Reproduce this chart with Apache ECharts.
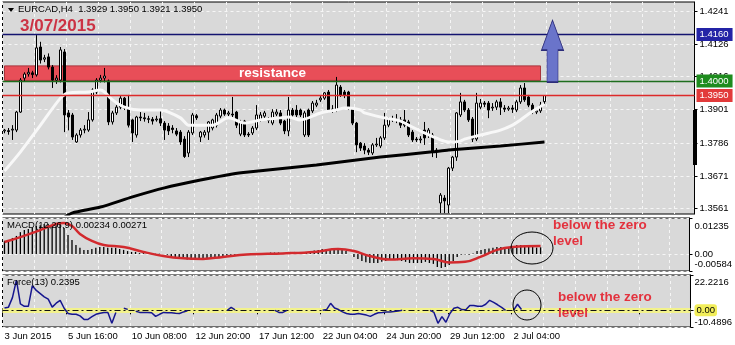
<!DOCTYPE html>
<html><head><meta charset="utf-8">
<script src="https://cdn.jsdelivr.net/npm/echarts@6/dist/echarts.min.js"></script>
<style>html,body{margin:0;padding:0;background:#fff}#c{width:735px;height:345px}</style>
</head><body><div id="c"></div>
<script>
// ---- data ----
const timeLabels = ['3 Jun 2015','5 Jun 16:00','10 Jun 08:00','12 Jun 20:00','17 Jun 12:00','22 Jun 04:00','24 Jun 20:00','29 Jun 12:00','2 Jul 04:00'];
const priceTicks = [1.4241, 1.4126, 1.4016, 1.3901, 1.3786, 1.3671, 1.3561];
const macdTicks = [0.01235, 0, -0.00584];
const forceTicks = [22.2216, 0, -10.4896];
const levelLines = [1.4160, 1.4000, 1.3950];
const resistanceZone = [1.4002, 1.4052];
// H4 candles: [open, high, low, close]
const candles = [
[1.3828,1.3835,1.3820,1.3831],[1.3829,1.3838,1.3815,1.3826],[1.3831,1.3848,1.3797,1.3834],[1.3831,1.3897,1.3824,1.3893],
[1.3893,1.4010,1.3890,1.4003],[1.4010,1.4030,1.4000,1.4024],[1.4024,1.4045,1.4015,1.4030],[1.4028,1.4035,1.4010,1.4022],
[1.4021,1.4158,1.4015,1.4114],[1.4117,1.4135,1.4060,1.4072],[1.4075,1.4090,1.4065,1.4080],[1.4083,1.4095,1.4040,1.4048],
[1.4048,1.4055,1.3976,1.4003],[1.4003,1.4020,1.3990,1.4010],[1.4003,1.4117,1.3995,1.4107],[1.4100,1.4110,1.3824,1.3883],
[1.3890,1.3900,1.3830,1.3876],[1.3883,1.3890,1.3797,1.3807],[1.3790,1.3820,1.3787,1.3814],[1.3814,1.3838,1.3805,1.3831],
[1.3831,1.3848,1.3820,1.3834],[1.3831,1.3893,1.3825,1.3866],[1.3866,1.3975,1.3860,1.3969],[1.3962,1.4010,1.3955,1.4003],
[1.4003,1.4021,1.3995,1.4010],[1.4010,1.4045,1.3995,1.4017],[1.4000,1.4005,1.3848,1.3859],[1.3859,1.3897,1.3850,1.3890],
[1.3890,1.3917,1.3883,1.3910],[1.3910,1.3948,1.3903,1.3941],[1.3941,1.3945,1.3900,1.3907],[1.3907,1.3952,1.3840,1.3848],
[1.3866,1.3870,1.3790,1.3821],[1.3814,1.3880,1.3805,1.3876],[1.3876,1.3893,1.3862,1.3873],[1.3873,1.3890,1.3860,1.3870],
[1.3870,1.3880,1.3855,1.3868],[1.3868,1.3876,1.3850,1.3862],[1.3866,1.3880,1.3860,1.3869],[1.3870,1.3900,1.3845,1.3855],
[1.3855,1.3862,1.3797,1.3831],[1.3845,1.3855,1.3814,1.3828],[1.3838,1.3848,1.3820,1.3833],[1.3828,1.3838,1.3810,1.3817],
[1.3824,1.3831,1.3780,1.3790],[1.3800,1.3810,1.3735,1.3740],[1.3752,1.3831,1.3738,1.3824],[1.3821,1.3890,1.3814,1.3883],
[1.3880,1.3886,1.3866,1.3873],[1.3807,1.3828,1.3790,1.3824],[1.3814,1.3831,1.3805,1.3824],[1.3824,1.3862,1.3797,1.3859],
[1.3838,1.3870,1.3830,1.3866],[1.3848,1.3890,1.3840,1.3883],[1.3879,1.3907,1.3872,1.3900],[1.3900,1.3905,1.3880,1.3886],
[1.3886,1.3897,1.3879,1.3890],[1.3886,1.3945,1.3876,1.3883],[1.3893,1.3897,1.3838,1.3848],[1.3817,1.3866,1.3810,1.3859],
[1.3862,1.3866,1.3807,1.3814],[1.3817,1.3824,1.3807,1.3814],[1.3821,1.3845,1.3814,1.3838],[1.3838,1.3917,1.3831,1.3883],
[1.3866,1.3893,1.3859,1.3883],[1.3879,1.3897,1.3872,1.3890],[1.3868,1.3876,1.3855,1.3864],[1.3855,1.3903,1.3848,1.3893],
[1.3886,1.3903,1.3879,1.3893],[1.3890,1.3900,1.3848,1.3855],[1.3862,1.3866,1.3817,1.3828],[1.3828,1.3945,1.3810,1.3900],
[1.3900,1.3907,1.3876,1.3883],[1.3900,1.3917,1.3876,1.3883],[1.3900,1.3905,1.3876,1.3883],[1.3814,1.3897,1.3807,1.3890],
[1.3900,1.3905,1.3807,1.3814],[1.3897,1.3931,1.3890,1.3924],[1.3917,1.3935,1.3910,1.3924],[1.3935,1.3948,1.3928,1.3941],
[1.3941,1.3962,1.3935,1.3959],[1.3962,1.3969,1.3893,1.3900],[1.3900,1.3917,1.3890,1.3903],[1.3900,1.4014,1.3893,1.3986],
[1.3979,1.3986,1.3945,1.3952],[1.3962,1.3969,1.3941,1.3952],[1.3962,1.3966,1.3900,1.3907],[1.3907,1.3910,1.3848,1.3855],
[1.3855,1.3859,1.3755,1.3780],[1.3786,1.3790,1.3759,1.3769],[1.3776,1.3786,1.3748,1.3762],[1.3762,1.3769,1.3745,1.3755],
[1.3752,1.3786,1.3745,1.3780],[1.3780,1.3804,1.3773,1.3783],[1.3776,1.3810,1.3769,1.3804],[1.3804,1.3890,1.3797,1.3848],
[1.3848,1.3876,1.3841,1.3869],[1.3866,1.3880,1.3859,1.3869],[1.3869,1.3886,1.3855,1.3866],[1.3866,1.3876,1.3838,1.3848],
[1.3866,1.3900,1.3841,1.3848],[1.3859,1.3866,1.3807,1.3814],[1.3824,1.3831,1.3790,1.3797],[1.3800,1.3807,1.3790,1.3797],
[1.3797,1.3810,1.3786,1.3800],[1.3831,1.3859,1.3780,1.3804],[1.3814,1.3838,1.3804,1.3831],[1.3814,1.3821,1.3738,1.3755],
[1.3762,1.3769,1.3735,1.3759],[1.3580,1.3614,1.3545,1.3607],[1.3597,1.3607,1.3545,1.3587],[1.3573,1.3704,1.3545,1.3700],
[1.3700,1.3742,1.3690,1.3738],[1.3738,1.3893,1.3725,1.3890],[1.3883,1.3959,1.3876,1.3928],[1.3928,1.3935,1.3893,1.3900],
[1.3900,1.3907,1.3859,1.3866],[1.3869,1.3876,1.3790,1.3800],[1.3800,1.3959,1.3793,1.3924],[1.3910,1.3938,1.3903,1.3924],
[1.3924,1.3931,1.3910,1.3920],[1.3924,1.3931,1.3872,1.3900],[1.3907,1.3924,1.3897,1.3910],[1.3910,1.3935,1.3900,1.3928],
[1.3928,1.3941,1.3883,1.3910],[1.3907,1.3917,1.3893,1.3903],[1.3903,1.3914,1.3897,1.3907],[1.3907,1.3917,1.3890,1.3903],
[1.3900,1.3935,1.3893,1.3928],[1.3928,1.3986,1.3921,1.3976],[1.3976,1.3993,1.3928,1.3935],[1.3945,1.3952,1.3910,1.3917],
[1.3917,1.3924,1.3886,1.3893],[1.3893,1.3903,1.3886,1.3897],[1.3897,1.3928,1.3890,1.3917],[1.3929,1.3950,1.3921,1.3950]
];
// moving averages read at [bar index, price]
const fastMA = [[0,1.3690],[4,1.3756],[9,1.3848],[14,1.3941],[16,1.3959],[21,1.3962],[24,1.3969],[25,1.3962],[27,1.3935],[30,1.3910],[34,1.3900],[39,1.3900],[41,1.3893],[44,1.3873],[45,1.3859],[46,1.3848],[49,1.3848],[52,1.3848],[56,1.3873],[60,1.3855],[64,1.3866],[69,1.3873],[71,1.3876],[74,1.3866],[79,1.3890],[83,1.3900],[85,1.3907],[86,1.3907],[89,1.3900],[90,1.3890],[95,1.3873],[99,1.3862],[101,1.3848],[105,1.3821],[109,1.3797],[111,1.3790],[114,1.3793],[115,1.3800],[119,1.3814],[124,1.3831],[127,1.3848],[129,1.3866],[131,1.3886],[133,1.3904],[135,1.3921]];
const slowMA = [[15,1.3531],[17,1.3546],[24,1.3566],[32,1.3601],[40,1.3632],[49,1.3659],[57,1.3680],[61,1.3687],[78,1.3711],[94,1.3738],[107,1.3756],[111,1.3762],[124,1.3776],[135,1.3790]];
const macdMain = [0.0045,0.0048,0.0055,0.0062,0.0075,0.0082,0.0086,0.0089,0.0096,0.0099,
0.0103,0.0103,0.0099,0.0099,0.0106,0.0089,0.0065,0.0048,0.0031,0.0021,
0.0014,0.0014,0.0017,0.0021,0.0024,0.0024,0.0021,0.0021,0.0021,0.0017,
0.0014,0.0010,0.0007,0.0007,0.0003,0.0003,0.0002,0.0002,0.0001,0.0001,
0.0000,-0.0003,-0.0007,-0.0010,-0.0014,-0.0017,-0.0019,-0.0019,-0.0017,-0.0019,
-0.0019,-0.0017,-0.0014,-0.0012,-0.0010,-0.0007,-0.0005,-0.0003,-0.0003,-0.0003,
-0.0002,-0.0003,-0.0002,0.0000,0.0002,0.0003,0.0003,0.0005,0.0005,0.0005,
0.0003,0.0005,0.0007,0.0007,0.0007,0.0007,0.0007,0.0010,0.0012,0.0014,
0.0017,0.0017,0.0014,0.0019,0.0019,0.0017,0.0010,0.0000,-0.0010,-0.0017,
-0.0024,-0.0028,-0.0031,-0.0031,-0.0031,-0.0027,-0.0024,-0.0021,-0.0021,-0.0021,
-0.0024,-0.0027,-0.0031,-0.0031,-0.0031,-0.0031,-0.0027,-0.0031,-0.0034,-0.0045,
-0.0048,-0.0045,-0.0038,-0.0024,-0.0010,-0.0003,-0.0002,-0.0003,0.0002,0.0010,
0.0014,0.0017,0.0019,0.0021,0.0024,0.0024,0.0024,0.0024,0.0027,0.0031,
0.0031,0.0027,0.0024,0.0024,0.0022,0.0023];
const macdSignal = [[0,0.0041],[4,0.0058],[9,0.0082],[13,0.0103],[15,0.0106],[17,0.0096],[19,0.0069],[22,0.0045],[25,0.0031],[30,0.0024],[35,0.0007],[40,-0.0007],[45,-0.0015],[50,-0.0017],[55,-0.0010],[61,-0.0002],[70,0.0002],[78,0.0007],[84,0.0017],[88,0.0010],[92,-0.0007],[97,-0.0019],[103,-0.0015],[108,-0.0017],[112,-0.0029],[116,-0.0027],[120,-0.0009],[124,0.0014],[128,0.0024],[135,0.0027]];
const forceIdx = [1.5,2,8,19,4,2.5,2.5,15.5,12.5,10.5,
8.5,7,2,4.5,6.3,1.3,-2,-2.5,-2.5,-3.5,
-5.7,-5.7,-4,-2.5,-1.8,-1.3,-1.3,-8.2,-1.3,null,
1.3,0.6,null,-0.6,-1.3,-1.3,-1.3,-1.5,-3.8,-2.5,
-1.3,-1.5,-1.5,-1.8,-2,-1,-0.3,null,null,null,
null,null,null,null,null,null,0,1.9,0.3,null,
null,null,null,null,null,null,null,null,0,-1.3,
-1.3,0,null,null,null,null,null,null,null,null,
0,0.5,4.4,1.5,0.5,-1,-2,-2.5,-2.5,-2,
-2.5,-3,-3.8,-2.5,-1.5,-1.3,-1,-1,-0.7,-0.5,
0,null,null,null,null,null,null,0,-1.3,-8.2,
-4,-7.5,-2,1.3,1.9,0.5,0.3,3.1,3.1,2.5,
2.5,3.8,6.3,5,3.5,1.9,0,null,0,3.8,
0.5,null,null,null,null,null];

// ---- chart ----
const N = 173;
const slots = Array.from({length: N}, (_, i) => String(i));
const FONT = '"Liberation Sans", Arial, sans-serif';
const BG = '#D9D9D9';
const GL = {color: '#F6F6F6', type: [3, 3], width: 1};
const chart = echarts.init(document.getElementById('c'));

function xAx(gi, bottom) {
  return {
    type: 'category', gridIndex: gi, data: slots, boundaryGap: true,
    axisLine: {show: false},
    axisTick: bottom ? {show: true, interval: (i) => i % 16 === 0, length: 4, lineStyle: {color: '#000'}} : {show: false},
    axisLabel: bottom ? {show: true, interval: (i) => i % 16 === 0 && i / 16 < timeLabels.length,
      formatter: (v) => timeLabels[Number(v) / 16] || '', align: 'left', margin: 4,
      fontSize: 9.5, color: '#000', fontFamily: FONT} : {show: false},
    splitLine: {show: true, interval: (i) => i % 8 === 0, lineStyle: GL}
  };
}
function edgeFmt(ticks, dec, yellowZero) {
  return (v) => {
    if (v === ticks[0]) return '{t|' + v.toFixed(dec) + '}';
    if (v === ticks[2]) return '{b|' + v.toFixed(dec) + '}';
    return (yellowZero ? '{y|' : '{z|') + '0.00}';
  };
}
function richFor(padT, padB) {
  const base = {fontSize: 9.5, color: '#000', fontFamily: FONT};
  return {
    t: Object.assign({padding: [padT, 0, 0, 0]}, base),
    b: Object.assign({padding: [0, 0, padB, 0]}, base),
    z: Object.assign({}, base),
    y: Object.assign({backgroundColor: '#F2EE5A', padding: [1, 2, 1, 2], borderRadius: 3}, base)
  };
}
const gridCommon = {left: 2.5, right: 40.5, show: true, backgroundColor: BG, borderColor: '#000', borderWidth: 1};

const option = {
  animation: false,
  textStyle: {fontFamily: FONT},
  grid: [
    Object.assign({top: 2, height: 212}, gridCommon),
    Object.assign({top: 218, height: 53}, gridCommon),
    Object.assign({top: 275, height: 52}, gridCommon)
  ],
  xAxis: [xAx(0, false), xAx(1, false), xAx(2, true)],
  yAxis: [
    {type: 'value', gridIndex: 0, position: 'right', min: 1.3542, max: 1.4272,
      axisLine: {show: true, lineStyle: {color: '#000'}},
      axisTick: {show: true, customValues: priceTicks, length: 3, lineStyle: {color: '#000'}},
      axisLabel: {customValues: priceTicks, formatter: (v) => v.toFixed(4), fontSize: 9.5, color: '#000', margin: 5, fontFamily: FONT},
      splitLine: {show: true, customValues: priceTicks, lineStyle: GL}},
    {type: 'value', gridIndex: 1, position: 'right', min: macdTicks[2], max: macdTicks[0],
      axisLine: {show: true, lineStyle: {color: '#000'}},
      axisTick: {show: true, customValues: macdTicks, length: 3, lineStyle: {color: '#000'}},
      axisLabel: {customValues: macdTicks, formatter: edgeFmt(macdTicks, 5, false), rich: richFor(16, 14), margin: 5},
      splitLine: {show: true, customValues: macdTicks, lineStyle: GL}},
    {type: 'value', gridIndex: 2, position: 'right', min: forceTicks[2], max: forceTicks[0],
      axisLine: {show: true, lineStyle: {color: '#000'}},
      axisTick: {show: true, customValues: forceTicks, length: 3, lineStyle: {color: '#000'}},
      axisLabel: {customValues: forceTicks, formatter: edgeFmt(forceTicks, 4, true), rich: richFor(15, 10), margin: 4},
      splitLine: {show: true, customValues: forceTicks, lineStyle: GL}}
  ],
  series: [
    {type: 'line', xAxisIndex: 0, yAxisIndex: 0, z: 1, silent: true, showSymbol: false,
      data: candles.map(r => r[3]), lineStyle: {opacity: 0},
      markArea: {silent: true,
        itemStyle: {color: '#E84E58', borderColor: '#A8343C', borderWidth: 1},
        label: {show: true, position: 'inside', formatter: 'resistance', color: '#fff', fontWeight: 'bold', fontSize: 13.5, fontFamily: FONT},
        data: [[{xAxis: 0, yAxis: resistanceZone[1]}, {xAxis: 134, yAxis: resistanceZone[0]}]]}},
    {type: 'candlestick', xAxisIndex: 0, yAxisIndex: 0, z: 3, barWidth: 3,
      data: candles.map(r => [r[0], r[3], r[2], r[1]]),
      itemStyle: {color: '#FFFFFF', color0: '#000000', borderColor: '#000', borderColor0: '#000', borderColorDoji: '#000', borderWidth: 1}},
    {type: 'line', xAxisIndex: 0, yAxisIndex: 0, z: 4, showSymbol: false, smooth: 0.3, silent: true,
      data: fastMA, lineStyle: {color: '#F8F8F8', width: 3}},
    {type: 'line', xAxisIndex: 0, yAxisIndex: 0, z: 4, showSymbol: false, smooth: 0.2, silent: true,
      data: slowMA, lineStyle: {color: '#000', width: 3},
      markLine: {silent: true, symbol: ['none', 'none'], precision: 4,
        label: {show: true, position: 'end', distance: 2, color: '#fff', fontSize: 9.5, fontFamily: FONT, padding: [2, 4, 1, 3],
          formatter: (p) => Number(p.value).toFixed(4)},
        data: [
          {yAxis: levelLines[0], lineStyle: {color: '#141470', width: 1.3, type: 'solid', opacity: 1}, label: {backgroundColor: '#2323A6'}},
          {yAxis: levelLines[1], lineStyle: {color: '#1E6E1E', width: 1.3, type: 'solid', opacity: 1}, label: {backgroundColor: '#1E8C1E'}},
          {yAxis: levelLines[2], lineStyle: {color: '#DD2A2A', width: 1.3, type: 'solid', opacity: 1}, label: {backgroundColor: '#E23A3A'}}
        ]},
      markPoint: {silent: true, data: [{coord: [137, 1.4103],
        symbol: 'path://M11,0 L22,30 L16.5,30 L16.5,62 L5.5,62 L5.5,30 L0,30 Z', symbolSize: [22, 62], symbolKeepAspect: false,
        itemStyle: {color: '#6A74CA', borderColor: '#2C2C7A', borderWidth: 1}, label: {show: false}}]}},
    {type: 'bar', xAxisIndex: 1, yAxisIndex: 1, z: 3, barWidth: 1.3, silent: true,
      data: macdMain, itemStyle: {color: '#000'}},
    {type: 'line', xAxisIndex: 1, yAxisIndex: 1, z: 4, showSymbol: false, smooth: 0.4, silent: true,
      data: macdSignal, lineStyle: {color: '#D22A2E', width: 2.5}},
    {type: 'line', xAxisIndex: 2, yAxisIndex: 2, z: 2, showSymbol: false, silent: true,
      data: forceIdx, lineStyle: {opacity: 0},
      markLine: {silent: true, symbol: ['none', 'none'], label: {show: false}, precision: 4,
        data: [
          {yAxis: 0, lineStyle: {color: '#F2F28C', width: 5, type: 'solid'}},
          {yAxis: 0, lineStyle: {color: '#111', width: 1, type: [6, 3, 2, 3]}}
        ]}},
    {type: 'line', xAxisIndex: 2, yAxisIndex: 2, z: 5, showSymbol: false, silent: true, connectNulls: false,
      data: forceIdx, lineStyle: {color: '#16168E', width: 1.5}}
  ],
  graphic: [
    {type: 'polygon', z: 100, shape: {points: [[8, 8], [14, 8], [11, 12]]}, style: {fill: '#000'}},
    {type: 'text', z: 100, left: 18, top: 4, style: {text: 'EURCAD,H4  1.3929 1.3950 1.3921 1.3950', font: '9.5px ' + FONT, fill: '#000'}},
    {type: 'text', z: 100, left: 20, top: 18, style: {text: '3/07/2015', font: 'bold 17px ' + FONT, fill: '#CC3344'}},
    {type: 'text', z: 100, left: 7, top: 220, style: {text: 'MACD(12,26,9) 0.00234 0.00271', font: '9.5px ' + FONT, fill: '#000'}},
    {type: 'text', z: 100, left: 7, top: 277, style: {text: 'Force(13) 0.2395', font: '9.5px ' + FONT, fill: '#000'}},
    {type: 'text', z: 100, left: 553, top: 218, style: {text: 'below the zero', font: 'bold 13.5px ' + FONT, fill: '#E3323E'}},
    {type: 'text', z: 100, left: 553, top: 234, style: {text: 'level', font: 'bold 13.5px ' + FONT, fill: '#E3323E'}},
    {type: 'text', z: 100, left: 558, top: 290, style: {text: 'below the zero', font: 'bold 13.5px ' + FONT, fill: '#E3323E'}},
    {type: 'text', z: 100, left: 558, top: 306, style: {text: 'level', font: 'bold 13.5px ' + FONT, fill: '#E3323E'}},
    {type: 'ellipse', z: 100, shape: {cx: 532, cy: 248, rx: 21, ry: 16}, style: {fill: 'none', stroke: '#000', lineWidth: 1}},
    {type: 'ellipse', z: 100, shape: {cx: 527, cy: 305, rx: 14, ry: 15}, style: {fill: 'none', stroke: '#000', lineWidth: 1}},
    {type: 'rect', z: 100, shape: {x: 693, y: 110, width: 4, height: 55}, style: {fill: '#000'}}
  ]
};
chart.setOption(option);
</script>
</body></html>
